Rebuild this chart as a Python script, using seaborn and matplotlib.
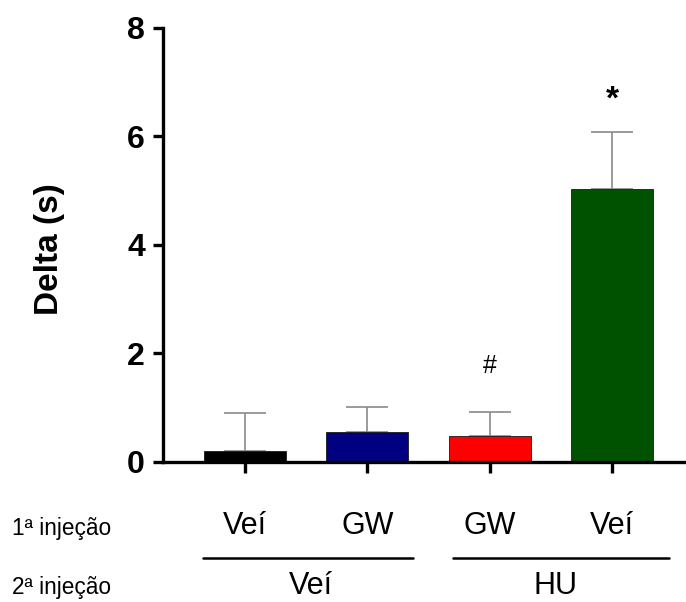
import matplotlib
matplotlib.use("Agg")
import matplotlib.pyplot as plt
import matplotlib.transforms as mtransforms
from matplotlib.lines import Line2D
import pandas as pd
import seaborn as sns

# Group data: first injection labels, second injection groups, mean and SEM
first_injection = ["Veí", "GW", "GW", "Veí"]
second_injection = ["Veí", "Veí", "HU", "HU"]
groups = ["Veí/Veí", "GW/Veí", "GW/HU", "Veí/HU"]
means = [0.20, 0.55, 0.47, 5.03]
sems = [0.70, 0.47, 0.45, 1.05]
bar_colors = ["#000000", "#000080", "#ff0000", "#005200"]
marks = {"GW/HU": "#", "Veí/HU": "*"}
second_labels = ["Veí", "HU"]
yticks = [0, 2, 4, 6, 8]

sns.set_theme(style="white")
plt.rcParams["font.family"] = ["Liberation Sans", "DejaVu Sans"]
plt.rcParams["text.color"] = "black"
plt.rcParams["axes.labelcolor"] = "black"
plt.rcParams["xtick.color"] = "black"
plt.rcParams["ytick.color"] = "black"

df = pd.DataFrame({"group": groups, "delta": means, "sem": sems})

fig = plt.figure(figsize=(6.86, 6.02), dpi=100)
ax = fig.add_axes([0.2376, 0.2326, 0.7624, 0.721])

sns.barplot(data=df, x="group", y="delta", hue="group", palette=bar_colors,
            order=groups, hue_order=groups, legend=False, errorbar=None,
            saturation=1, width=0.67, edgecolor="#1a1a1a", linewidth=0.6,
            ax=ax, zorder=2)

# upper-only SEM bars
ax.errorbar(range(len(groups)), df["delta"], yerr=[[0] * len(groups), df["sem"]],
            fmt="none", ecolor="#8a8a8a", elinewidth=1.2, capsize=14.8,
            capthick=1.2, zorder=1)

# significance marks
for i, g in enumerate(groups):
    if g in marks:
        top = df["delta"][i] + df["sem"][i]
        is_hash = marks[g] == "#"
        ax.annotate(marks[g], xy=(i, top), xytext=(0, 33 if is_hash else 23),
                    textcoords="offset points", ha="center", va="center",
                    fontsize=18 if is_hash else 24,
                    fontweight="normal" if is_hash else "bold")

ax.set_xlim(-0.67, 3.605)
ax.set_ylim(0, 8)
ax.set_yticks(yticks)
ax.set_yticklabels([str(t) for t in yticks], fontsize=23, fontweight="bold")
ax.set_xticks(range(len(groups)))
ax.set_xticklabels(first_injection, fontsize=22)
ax.set_xlabel("")
ax.set_ylabel("Delta (s)", fontsize=24, fontweight="bold")
ax.yaxis.set_label_coords(-0.187, 0.49)

sns.despine(ax=ax)
for side in ("left", "bottom"):
    ax.spines[side].set_linewidth(2.4)
    ax.spines[side].set_color("black")
ax.tick_params(axis="y", direction="out", length=7, width=2.4, pad=6)
ax.tick_params(axis="x", direction="out", length=8, width=2.4, pad=27)
ax.tick_params(axis="both", which="both", left=True, bottom=True)

# second-injection grouping: lines and labels under the first row
trans = mtransforms.blended_transform_factory(ax.transData, fig.transFigure)
spans = [(-0.34, 1.37), (1.70, 3.47)]
line_y = 1 - 558 / 602
for (x0, x1), lab in zip(spans, second_labels):
    fig.add_artist(Line2D([x0, x1], [line_y, line_y], transform=trans,
                          color="black", lw=1.8))
    members = [i for i, s in enumerate(second_injection) if s == lab]
    xc = sum(members) / len(members)
    fig.text(xc + 0.04, 1 / 602, lab, transform=trans, ha="center",
             va="bottom", fontsize=22)

fig.text(12 / 686, 1 - 535 / 602, "1ª injeção", ha="left", va="baseline", fontsize=16.3)
fig.text(12 / 686, 1 - 594 / 602, "2ª injeção", ha="left", va="baseline", fontsize=16.3)

fig.savefig("out.png", dpi=100)
